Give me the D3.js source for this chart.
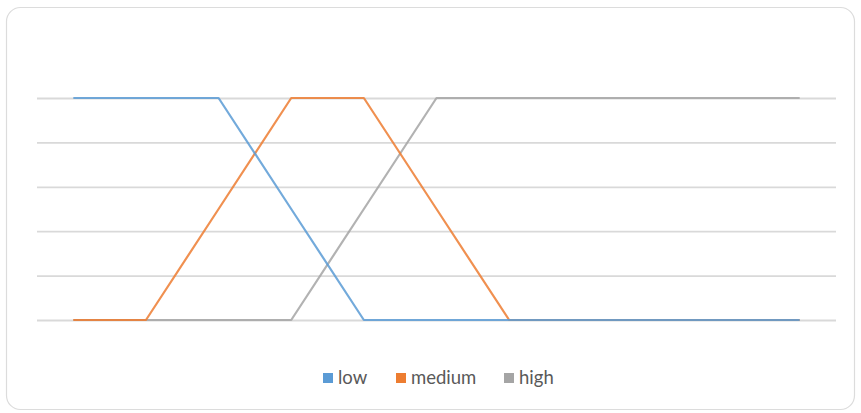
<!DOCTYPE html>
<html>
<head>
<meta charset="utf-8">
<script src="https://cdn.jsdelivr.net/npm/d3@7"></script>
<style>
  html, body { margin: 0; padding: 0; background: #ffffff; }
  svg { display: block; }
</style>
</head>
<body>
<svg id="chart" width="861" height="413"></svg>
<script>
// Membership degrees for each fuzzy set over 11 sample points
const categories = ["1", "2", "3", "4", "5", "6", "7", "8", "9", "10", "11"];
const lowValues    = [1, 1, 1, 0.5, 0, 0, 0, 0, 0, 0, 0];
const mediumValues = [0, 0, 0.5, 1, 1, 0.5, 0, 0, 0, 0, 0];
const highValues   = [0, 0, 0, 0, 0.5, 1, 1, 1, 1, 1, 1];
const yTicks = [0, 0.2, 0.4, 0.6, 0.8, 1];

const seriesNames  = ["low", "medium", "high"];
const seriesValues = [lowValues, mediumValues, highValues];
const seriesColors = ["#5b9bd5", "#ed7d31", "#a5a5a5"];

const svg = d3.select("#chart");
const W = 861, H = 413;

// Chart card
svg.append("rect")
  .attr("x", 6.5).attr("y", 7.5)
  .attr("width", W - 13).attr("height", H - 11)
  .attr("rx", 14).attr("ry", 14)
  .attr("fill", "#ffffff")
  .attr("stroke", "#dcdcdc")
  .attr("stroke-width", 1.2);

const plot = { left: 37, right: 836, top: 98, bottom: 320 };

const x = d3.scalePoint()
  .domain(categories)
  .range([plot.left, plot.right])
  .padding(0.5);

const y = d3.scaleLinear()
  .domain([0, 1])
  .range([plot.bottom, plot.top]);

// Horizontal gridlines
svg.append("g")
  .attr("transform", `translate(${plot.left},0)`)
  .call(d3.axisLeft(y).tickValues(yTicks).tickSize(-(plot.right - plot.left)).tickFormat(""))
  .call(g => g.select(".domain").remove())
  .call(g => g.selectAll(".tick line")
    .attr("stroke", "#d9d9d9")
    .attr("stroke-width", 1.8));

const line = d3.line()
  .x((d, i) => x(categories[i]))
  .y(d => y(d));

// Series drawn so that "low" ends up on top
const order = [2, 1, 0];
svg.append("g")
  .selectAll("path")
  .data(order)
  .join("path")
  .attr("d", i => line(seriesValues[i]))
  .attr("fill", "none")
  .attr("stroke", i => seriesColors[i])
  .attr("stroke-opacity", 0.85)
  .attr("stroke-width", 2.2)
  .attr("stroke-linejoin", "round")
  .attr("stroke-linecap", "butt");

// Legend
const legendItems = [
  { name: seriesNames[0], color: seriesColors[0], x: 323 },
  { name: seriesNames[1], color: seriesColors[1], x: 396 },
  { name: seriesNames[2], color: seriesColors[2], x: 504 }
];
const legend = svg.append("g");
legendItems.forEach(item => {
  legend.append("rect")
    .attr("x", item.x).attr("y", 373)
    .attr("width", 10).attr("height", 10)
    .attr("fill", item.color);
  legend.append("text")
    .attr("x", item.x + 15).attr("y", 384)
    .attr("font-family", "Lato, 'Open Sans', sans-serif")
    .attr("font-size", 18.5)
    .attr("fill", "#595959")
    .text(item.name);
});
</script>
</body>
</html>
